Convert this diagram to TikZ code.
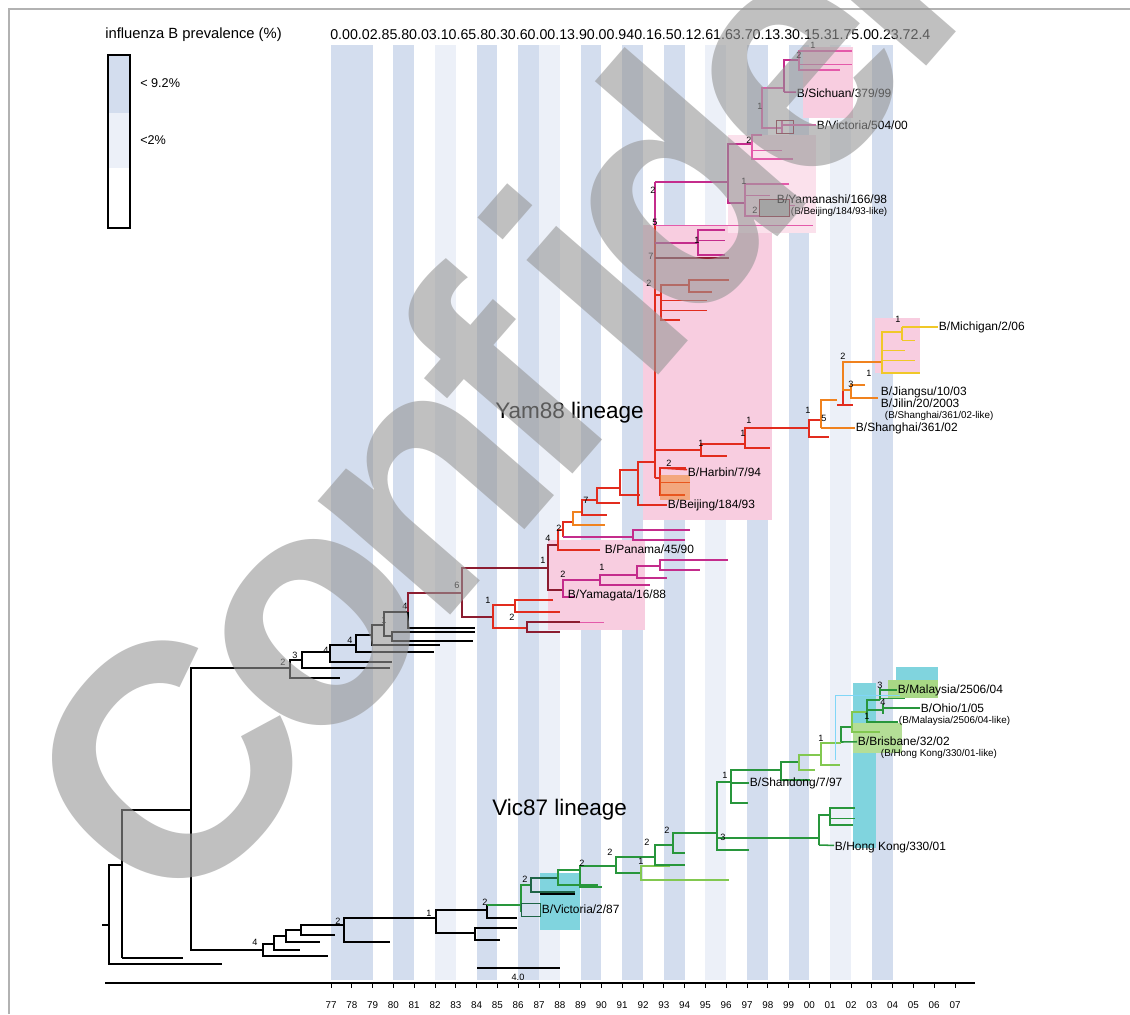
\documentclass[tikz,border=0pt]{standalone}
\usepackage{fontspec}
\setmainfont{Liberation Sans}
\newfontfamily\stampfont[LetterSpace=-7]{Liberation Sans}
\usetikzlibrary{positioning}

\definecolor{banddark}{RGB}{211,221,238}
\definecolor{bandlight}{RGB}{236,240,248}
\definecolor{pinkbox}{RGB}{248,205,224}
\definecolor{cyanbox}{RGB}{128,212,222}
\definecolor{yamdark}{RGB}{140,28,48}
\definecolor{yamred}{RGB}{226,44,30}
\definecolor{yammag}{RGB}{196,44,140}
\definecolor{yampink}{RGB}{228,90,170}
\definecolor{yamorange}{RGB}{240,130,30}
\definecolor{yamyellow}{RGB}{240,200,40}
\definecolor{vicgreen}{RGB}{40,150,60}
\definecolor{vicdark}{RGB}{30,100,70}
\definecolor{viclight}{RGB}{130,200,80}
\definecolor{markgray}{RGB}{150,150,150}

\begin{document}
\begin{tikzpicture}[x=0.025cm, y=-0.025cm,
  br/.style={line width=1.1pt},
  twig/.style={line width=0.7pt},
  strain/.style={font=\fontsize{8.5}{9}\selectfont, anchor=west, inner sep=0.5pt},
  likenote/.style={font=\fontsize{7}{7}\selectfont, anchor=west, inner sep=0.5pt},
  supp/.style={font=\fontsize{6.5}{7}\selectfont, inner sep=0pt},
  lineage/.style={font=\fontsize{16}{18}\selectfont, anchor=west, inner sep=0pt},
  yearlbl/.style={font=\fontsize{7}{7}\selectfont, inner sep=0pt}]

\clip (0,0) rectangle (1130,1014);
\fill[white] (0,0) rectangle (1130,1014);

% frame
\draw[gray!60, line width=0.8pt] (9,1014) -- (9,9) -- (1130,9);

% prevalence bands, one per season
\foreach \k in {0,1,3,7,9,12,14,16,20,22,26}
  \fill[banddark] ({331+20.8*\k},45) rectangle ++(20.8,935);
\foreach \k in {5,10,18,24}
  \fill[bandlight] ({331+20.8*\k},45) rectangle ++(20.8,935);

% clade shading
\fill[pinkbox] (643,225) rectangle (772,520);
\fill[pinkbox] (548,540) rectangle (645,630);
\fill[pinkbox] (803,47) rectangle (853,118);
\fill[pinkbox!60] (728,135) rectangle (816,233);
\fill[pinkbox] (875,318) rectangle (920,373);
\fill[cyanbox] (896,667) rectangle (938,683);
\fill[cyanbox] (853,683) rectangle (876,848);
\fill[cyanbox] (540,873) rectangle (580,930);
\fill[viclight!70] (888,680) rectangle (938,698);
\fill[viclight!60] (853,723) rectangle (902,753);

% root
\begin{scope}[br, black]
  \draw (102,925) -- (109,925);
  \draw (122,865) -| (109,964) -- (222,964);
  \draw (191,810) -| (122,958);
  \draw[line width=2pt] (122,958) -- (183,958);
  \draw (290,668) -| (191,950) -- (263,950);
\end{scope}

% Yam88 lineage, early black part
\begin{scope}[br, black]
  \draw (302,660) -| (290,678) -- (340,678);
  \draw (330,652) -| (302,668) -- (390,668);
  \draw (356,645) -| (330,662) -- (392,662);
  \draw (372,635) -| (356,652) -- (434,652);
  \draw (384,625) -| (372,645) -- (440,645);
  \draw (408,612) -| (384,636) -- (392,636);
  \draw[line width=1.6pt] (475,632) -| (392,641) -- (473,641);
  \draw (408,612) -- (408,628) -- (475,628);
\end{scope}

% Yam88 lineage, red part
\begin{scope}[br]
  \draw[yamdark] (408,612) -- (408,593) -- (462,593);
  \draw[yamdark] (548,568) -| (462,617) -- (493,617);
  \draw[yamred] (515,605) -| (493,628) -- (527,628);
  \draw[yamred] (553,600) -| (515,612) -- (560,612);
  \draw[yamdark] (580,622) -| (527,632) -- (560,632);
  \draw[yampink, twig] (580,622) -- (604,622);
  \draw[yamdark] (558,545) -| (548,590) -- (563,590);
  \draw[yammag] (600,580) -| (563,597) -- (575,597);
  \draw[yammag] (637,575) -| (600,585) -- (650,585);
  \draw[yammag] (660,566) -| (637,578) -- (667,578);
  \draw[yammag] (728,560) -| (660,570) -- (700,570);
  \draw[yamred] (563,530) -| (558,550) -- (600,550);
  \draw[yamred] (573,522) -| (563,537);
  \draw[yammag] (563,537) -- (633,537);
  \draw[yammag] (690,530) -| (633,540) -- (685,540);
  \draw[yamorange] (582,512) -| (573,525) -- (605,525);
  \draw[yamred] (597,500) -| (582,515) -- (607,515);
  \draw[yamred] (620,488) -| (597,503) -- (620,503);
  \draw[yamred] (638,470) -| (620,495) -- (640,495);
  \draw[yamred] (655,462) -| (638,505) -- (665,505);
  % main stem
  \draw[yammag, line width=1.3pt] (655,182) -- (655,225);
  \draw[yamred, line width=1.3pt] (655,225) -- (655,478);
  \draw[yammag] (655,182) -- (728,182);
  \draw[yampink, twig] (655,225) -- (813,225);
  \draw[yammag] (655,243) -- (698,243);
  \draw[yammag] (725,230) -| (698,255) -- (725,255);
  \draw[yammag, twig] (698,240) -- (725,240);
  \draw[yamdark] (655,258) -- (729,258);
  \draw[yamred] (655,295) -- (661,295);
  \draw[yamred] (689,285) -| (661,320) -- (680,320);
  \draw[yamred, twig] (661,300) -- (707,300);
  \draw[yamred, twig] (661,310) -- (707,310);
  \draw[yamred] (729,280) -| (689,292) -- (712,292);
  % Harbin clade
  \draw[yamred] (655,478) -- (660,478);
  \draw[yamred] (686,468) -| (660,495) -- (685,495);
  \draw[yamred, twig] (660,482) -- (690,482);
  % branch to the recent Yam viruses
  \draw[yamred] (655,450) -- (701,450);
  \draw[yamred] (745,444) -| (701,456) -- (727,456);
  \draw[yamred] (809,428) -| (745,448) -- (770,448);
  \draw[yamred] (821,420) -| (809,437) -- (829,437);
  \draw[yamorange] (837,400) -| (821,428);
  \draw[yamred] (837,405) -| (843,380);
  \draw[yamred] (837,405) -- (853,405);
  \draw[yamorange] (882,362) -| (843,390) -- (851,390);
  \draw[yamorange] (865,385) -| (851,398) -- (878,398);
  \draw[yamyellow] (902,332) -| (882,373) -- (920,373);
  \draw[yamyellow, twig] (882,350) -- (905,350);
  \draw[yamyellow, twig] (882,360) -- (915,360);
  \draw[yamyellow] (902,340) -- (902,327);
  \draw[yamyellow, twig] (902,340) -- (915,340);
  % upper clade
  \draw[yammag] (752,144) -| (728,203) -- (745,203);
  \draw[yampink] (789,184) -| (745,216) -- (790,216);
  \draw[yampink, twig] (745,195) -- (770,195);
  \draw[yampink, twig] (760,205) -- (795,205);
  \draw[yampink] (762,135) -| (752,159) -- (793,159);
  \draw[yampink, twig] (752,150) -- (782,150);
  \draw[yampink] (784,88) -| (762,128) -- (782,128);
  \draw[yampink] (782,120) -- (782,133);
  \draw[yammag] (799,60) -| (784,92);
  \draw[yampink] (852,51) -| (799,70) -- (840,70);
  \draw[yampink, twig] (799,64) -- (852,64);
\end{scope}
\draw[yamdark, fill=gray!55] (759,199) rectangle (789,216);
\draw[yamdark] (776,120) rectangle (793,133);
\fill[yamorange, opacity=0.5] (660,475) rectangle (690,500);

% Vic87 lineage, black part
\begin{scope}[br, black]
  \draw (274,944) -| (263,956) -- (328,956);
  \draw (286,936) -| (274,950) -- (300,950);
  \draw (301,930) -| (286,942) -- (320,942);
  \draw (344,925) -| (301,935) -- (335,935);
  \draw (436,918) -| (344,942) -- (390,942);
  \draw (487,910) -| (436,933) -- (475,933);
  \draw (517,928) -| (475,940) -- (500,940);
  \draw (487,905) -- (487,918) -- (517,918);
\end{scope}

% Vic87 lineage, green part
\begin{scope}[br, vicgreen]
  \draw (487,905) -- (521,905);
  \draw (531,885) -| (521,912);
  \draw[vicdark] (558,878) -| (531,892) -- (575,892);
  \draw[black, line width=1.6pt] (540,894) -- (575,894);
  \draw (580,870) -| (558,885) -- (598,885);
  \draw (616,866) -| (580,887) -- (602,887);
  \draw (655,857) -| (616,873) -- (641,873);
  \draw[viclight] (670,866) -| (641,880) -- (729,880);
  \draw (673,845) -| (655,865) -- (685,865);
  \draw (717,833) -| (673,853) -- (685,853);
  \draw (731,782) -| (717,850) -- (749,850);
  \draw (717,838) -- (819,838);
  \draw (830,815) -| (819,845);
  \draw (855,808) -| (830,825) -- (853,825);
  \draw[twig] (830,818) -- (855,818);
  \draw (781,770) -| (731,803) -- (748,803);
  \draw (799,762) -| (781,780) -- (810,780);
  \draw[viclight] (821,755) -| (799,770) -- (815,770);
  \draw[viclight] (841,743) -| (821,765) -- (840,765);
  \draw (852,727) -| (841,742);
  \draw[viclight] (867,712) -| (852,732) -- (880,732);
  \draw (880,700) -| (867,722) -- (898,722);
  \draw (867,710) -- (883,710);
  \draw (883,704) -- (883,714);
  \draw (880,688) -- (880,700);
  \draw[twig] (880,698) -- (905,698);
\end{scope}
\draw[cyan!50, twig] (835,695) -- (900,695);
\draw[cyan!50, twig] (835,695) -- (835,760);
\draw[vicdark] (521,903) rectangle (540,916);

% strain names
\node[strain] (sichuan) at (796,93) {B/Sichuan/379/99};
\node[strain] (vic504) at (816,125) {B/Victoria/504/00};
\node[strain] (yamanashi) at (776,199) {B/Yamanashi/166/98};
\node[likenote] (yamlike) at (790,212) {(B/Beijing/184/93-like)};
\node[strain] (michigan) at (938,327) {B/Michigan/2/06};
\node[strain] (jiangsu) at (880,392) {B/Jiangsu/10/03};
\node[strain] (jilin) at (880,403) {B/Jilin/20/2003};
\node[likenote] (jilinlike) at (884,416) {(B/Shanghai/361/02-like)};
\node[strain] (shanghai) at (855,428) {B/Shanghai/361/02};
\node[strain] (harbin) at (687,472) {B/Harbin/7/94};
\node[strain] (beijing) at (667,505) {B/Beijing/184/93};
\node[strain] (panama) at (604,549) {B/Panama/45/90};
\node[strain] (yamagata) at (567,595) {B/Yamagata/16/88};
\node[strain] (malaysia) at (897,690) {B/Malaysia/2506/04};
\node[strain] (ohio) at (920,708) {B/Ohio/1/05};
\node[likenote] (ohiolike) at (898,721) {(B/Malaysia/2506/04-like)};
\node[strain] (brisbane) at (857,741) {B/Brisbane/32/02};
\node[likenote] (brislike) at (880,754) {(B/Hong Kong/330/01-like)};
\node[strain] (shandong) at (749,783) {B/Shandong/7/97};
\node[strain] (hongkong) at (834,847) {B/Hong Kong/330/01};
\node[strain] (vic287) at (541,909) {B/Victoria/2/87};

% leaves that end at a name
\begin{scope}[br]
  \draw[yampink] (782,125) -- (vic504);
  \draw[yammag] (784,92) -- (sichuan);
  \draw[yamyellow] (902,327) -- (michigan);
  \draw[yamorange] (821,428) -- (shanghai);
  \draw[yamred] (660,468) -- (harbin);
  \draw[yamred] (665,505) -- (beijing);
  \draw[vicgreen] (880,690) -- (malaysia);
  \draw[vicgreen] (883,708) -- (ohio);
  \draw[vicgreen] (841,742) -- (brisbane);
  \draw[vicgreen] (731,783) -- (shandong);
  \draw[vicgreen] (819,845) -- (hongkong);
\end{scope}

% lineage names
\node[lineage] (yamname) at (495,413) {Yam88 lineage};
\node[lineage] (vicname) at (492,810) {Vic87 lineage};

% support values
\foreach \x/\y/\v [count=\i] in {
  283/662/2, 295/655/3, 326/650/4, 350/640/4, 384/620/1, 405/606/4,
  457/585/6, 488/600/1, 512/617/2, 543/560/1, 563/574/2, 602/567/1,
  548/538/4, 559/528/2, 586/500/7, 669/463/2, 701/443/1, 749/420/1,
  743/433/1, 808/410/1, 824/418/5, 843/356/2, 851/384/3, 869/373/1,
  898/319/1, 651/256/7, 649/283/2, 697/240/1, 653/190/2, 655/222/5,
  744/181/1, 755/210/2, 749/140/2, 760/106/1, 799/55/2, 813/45/1,
  255/942/4, 338/921/2, 429/913/1, 485/902/2, 525/879/2, 582/863/2,
  610/852/2, 641/861/1, 647/842/2, 667/830/2, 723/837/3, 725/775/1,
  821/738/1, 867/716/1, 883/702/4, 880/685/3}
  \node[supp] (sv\i) at (\x,\y) {\v};

% legend
\node[font=\fontsize{10.5}{12}\selectfont, anchor=west, inner sep=0pt] (legtitle) at (105,35) {influenza B prevalence (\%)};
\fill[banddark] (108,55) rectangle (130,113);
\fill[bandlight] (108,113) rectangle (130,168);
\draw[line width=0.8pt] (108,55) rectangle (130,228);
\node[font=\fontsize{9}{9}\selectfont, anchor=west, inner sep=0pt] (leghigh) at (140,83) {< 9.2\%};
\node[font=\fontsize{9}{9}\selectfont, anchor=west, inner sep=0pt] (leglow) at (140,140) {<2\%};

% prevalence values per season
\node[anchor=west, inner sep=0pt] (prevrow) at (330,35)
  {\resizebox{15cm}{!}{0.00.02.85.80.03.10.65.80.30.60.00.13.90.00.940.16.50.12.61.63.70.13.30.15.31.75.00.23.72.4}};

% scale bar
\draw[line width=1.3pt] (477,968) -- (560,968);
\node[supp] (scalelbl) at (518,977) {4.0};

% time axis
\draw[line width=0.8pt] (105,983) -- (975,983);
\foreach \yr [count=\k from 0] in {77,78,79,80,81,82,83,84,85,86,87,88,89,90,91,92,93,94,95,96,97,98,99,00,01,02,03,04,05,06,07}
{
  \draw[line width=0.6pt] ({331+20.8*\k},983) -- ++(0,5);
  \node[yearlbl] (yr\k) at ({331+20.8*\k},1005) {\yr};
}

% watermark
\node[rotate=49, anchor=base west, inner sep=0pt, text=markgray, opacity=0.6,
  font=\fontsize{235}{235}\stampfont\bfseries] (stamp) at (176,930) {Conf\kern0.09em idential};
\end{tikzpicture}
\end{document}
